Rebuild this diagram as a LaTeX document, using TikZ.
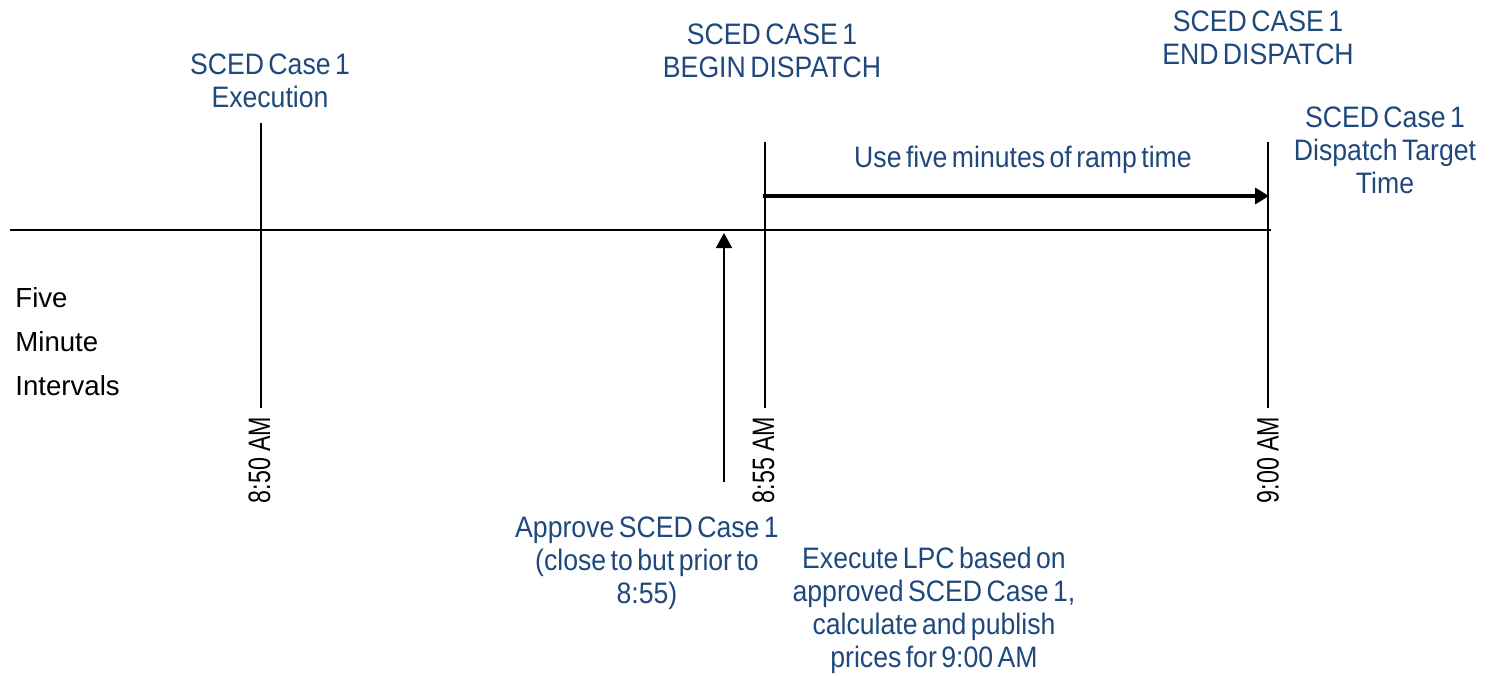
\documentclass[tikz,border=0pt]{standalone}
\usepackage{fontspec}
\setmainfont{Liberation Sans}
\newfontfamily\bluefont{Liberation Sans}[FakeStretch=0.9,WordSpace=0.6]
\newfontfamily\narrowfont{Liberation Sans}[FakeStretch=0.75]
\usetikzlibrary{arrows.meta}
\definecolor{txtblue}{RGB}{31,73,125}
\tikzset{
  bluelbl/.style={font=\bluefont\fontsize{14.8}{16.5}\selectfont, text=txtblue, align=center, inner sep=0pt, anchor=base},
  blacklbl/.style={font=\fontsize{13.8}{22}\selectfont, align=left, inner sep=0pt, anchor=base west},
  timelbl/.style={font=\narrowfont\fontsize{15.5}{18}\selectfont, rotate=90, inner sep=0pt},
  axisline/.style={line width=1pt},
  tickup/.style={line width=0.85pt},
  tickdown/.style={line width=1.1pt},
  ramp/.style={line width=2pt, -{Triangle[length=7pt,width=8pt]}},
  uparr/.style={line width=1pt, -{Triangle[length=7.5pt,width=8pt]}},
}
\begin{document}
\begin{tikzpicture}[x=0.5pt,y=-0.5pt]
\useasboundingbox (0,0) rectangle (1489,675);
% axis
\coordinate (axL) at (10,230);
\coordinate (axR) at (1271,230);
\draw[axisline] (axL) -- (axR);
% ticks
\coordinate (t1top) at (261,123);
\coordinate (t1mid) at (261,230);
\coordinate (t1bot) at (261,408);
\coordinate (t2top) at (765,142);
\coordinate (t2mid) at (765,230);
\coordinate (t2bot) at (765,408);
\coordinate (t3top) at (1268,142);
\coordinate (t3mid) at (1268,230);
\coordinate (t3bot) at (1268,408);
\draw[tickup] (t1top) -- (t1mid);
\draw[tickdown] (t1mid) -- (t1bot);
\draw[tickup] (t2top) -- (t2mid);
\draw[tickdown] (t2mid) -- (t2bot);
\draw[tickup] (t3top) -- (t3mid);
\draw[tickdown] (t3mid) -- (t3bot);
% ramp arrow
\coordinate (rampS) at (763,196);
\coordinate (rampE) at (1269,196);
\draw[ramp] (rampS) -- (rampE);
% approve arrow
\coordinate (apS) at (724,482);
\coordinate (apE) at (724,233);
\draw[uparr] (apS) -- (apE);
% time labels
\node[timelbl] (tm1) at (259.5,460) {8:50 AM};
\node[timelbl] (tm2) at (763.5,460) {8:55 AM};
\node[timelbl] (tm3) at (1268,460) {9:00 AM};
% blue labels (anchor = baseline of last line)
\node[bluelbl] (exec) at (270,107) {SCED Case 1\\Execution};
\node[bluelbl] (begin) at (772,77) {SCED CASE 1\\BEGIN DISPATCH};
\node[bluelbl] (end) at (1258,64) {SCED CASE 1\\END DISPATCH};
\node[bluelbl] (target) at (1385,193) {SCED Case 1\\Dispatch Target\\Time};
\node[bluelbl] (use) at (1023,167) {Use five minutes of ramp time};
\node[bluelbl] (approve) at (647,603) {Approve SCED Case 1\\(close to but prior to\\8:55)};
\node[bluelbl] (lpc) at (934,667) {Execute LPC based on\\approved SCED Case 1,\\calculate and publish\\prices for 9:00 AM};
% black label
\node[blacklbl] (five) at (15,395) {Five\\Minute\\Intervals};
\end{tikzpicture}
\end{document}
